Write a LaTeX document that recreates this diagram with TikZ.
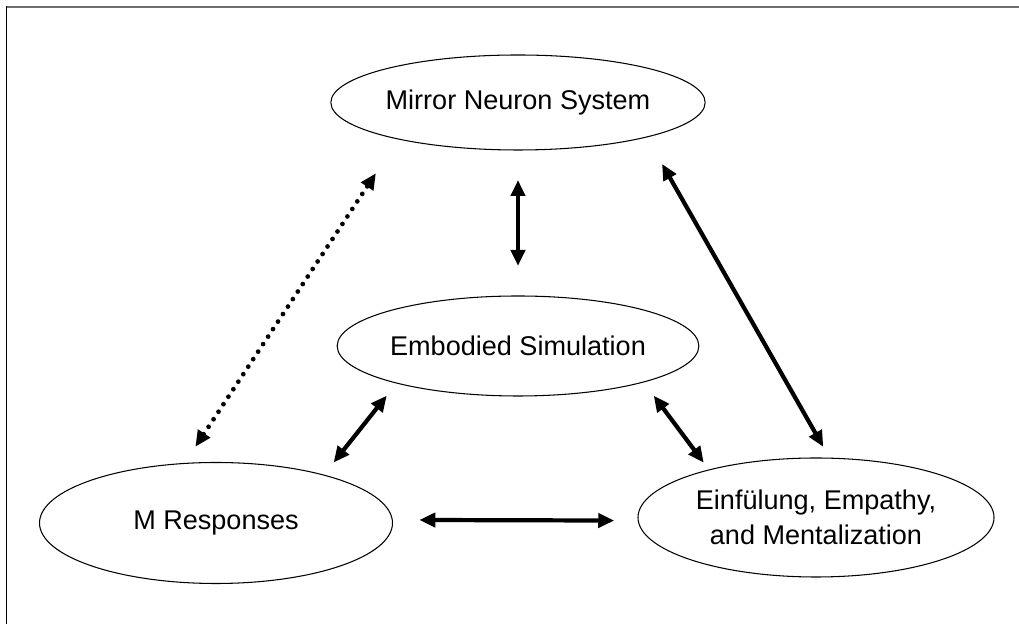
\documentclass[tikz,border=0pt]{standalone}
\usepackage{fontspec}
\setmainfont{Liberation Sans}
\usepackage{tikz}
\usetikzlibrary{shapes.geometric, arrows.meta}

\definecolor{framegray}{RGB}{110,110,110}

\tikzset{
    bubble/.style={ellipse, draw, line width=0.6pt, inner sep=0pt, outer sep=0pt,
        align=center, font=\fontsize{15.4}{19.9}\selectfont},
    link/.style={{Triangle[length=0.32cm,width=0.28cm]}-{Triangle[length=0.32cm,width=0.28cm]},
        line width=2.4pt},
    dotlink/.style={link, line width=2.7pt, line cap=round, dash pattern=on 0pt off 0.18cm}
}

\begin{document}
\begin{tikzpicture}
        \useasboundingbox (0,0) rectangle (20.38,12.48);

        % Frame
        \draw[line width=0.04cm, framegray] (0.12,12.33) -- (20.38,12.33);
        \draw[line width=0.7pt] (0.13,12.35) -- (0.13,0);

        % Ellipses
        \node[bubble, minimum width=7.2cm, minimum height=1.9cm] (mns) at (10.36,10.43) {Mirror Neuron System};
        \node[bubble, minimum width=7.04cm, minimum height=2.0cm] (emb) at (10.36,5.56) {Embodied Simulation};
        \node[bubble, minimum width=7.06cm, minimum height=2.42cm] (mr) at (4.32,2.02) {M Responses};
        \node[bubble, minimum width=7.12cm, minimum height=2.38cm] (emp) at (16.32,2.13) {Einfülung, Empathy,\\and Mentalization};

        % Solid links
        \draw[link, shorten <=0.6cm, shorten >=0.6cm] (mns.south) -- (emb.north);
        \draw[link, shorten <=0.62cm, shorten >=0.26cm] (mns.345) -- (emp.77);
        \draw[link, shorten <=0.32cm, shorten >=0.32cm] (mr.24) -- (emb.197);
        \draw[link, shorten <=0.34cm, shorten >=0.18cm] (emb.344) -- (emp.156);
        \draw[link, shorten <=0.54cm, shorten >=0.48cm] (mr.1) -- (emp.181);

        % Dotted link
        \draw[dotlink, shorten <=0.4cm, shorten >=0.82cm] (mr.118) -- (mns.197);
\end{tikzpicture}
\end{document}
